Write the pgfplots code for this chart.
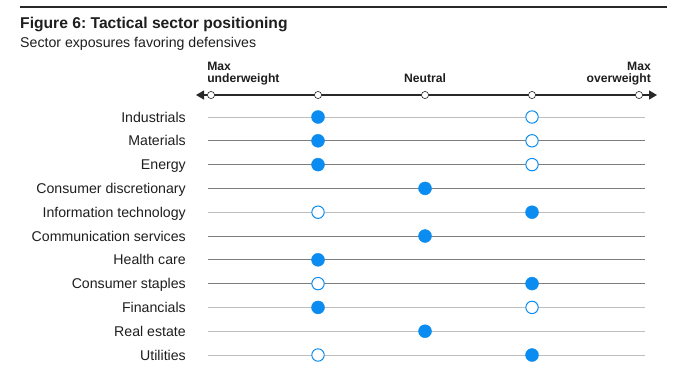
\documentclass[border=0pt]{standalone}
\usepackage{pgfplots}
\pgfplotsset{compat=1.18}
\usetikzlibrary{arrows.meta}
\usepackage{fontspec}
\setmainfont{Liberation Sans}
\frenchspacing
\definecolor{dotblue}{RGB}{10,140,240}
\definecolor{lightrow}{RGB}{190,190,190}
\definecolor{darkrow}{RGB}{125,125,125}
\definecolor{axisdark}{RGB}{40,40,40}
\definecolor{txt}{RGB}{30,30,30}
\tikzset{cat/.style={anchor=base east, inner sep=0pt, text=txt, font=\fontsize{14.2}{16}\selectfont},
  hdr/.style={inner sep=0pt, text=txt, font=\fontsize{12.2}{14}\selectfont\bfseries}}
\begin{document}
\begin{tikzpicture}
\begin{axis}[
  scale only axis, width=689bp, height=368bp,
  xmin=-1.972, xmax=4.467, ymin=-4.916, ymax=10.546,
  y dir=reverse, axis lines=none, ticks=none, clip=false,
]
% row lines
\addplot[lightrow, line width=0.8bp] coordinates {(-0.028,0) (4.056,0)};
\addplot[darkrow, line width=0.8bp] coordinates {(-0.028,1) (4.056,1)};
\addplot[darkrow, line width=0.8bp] coordinates {(-0.028,2) (4.056,2)};
\addplot[darkrow, line width=0.8bp] coordinates {(-0.028,3) (4.056,3)};
\addplot[lightrow, line width=0.8bp] coordinates {(-0.028,4) (4.056,4)};
\addplot[darkrow, line width=0.8bp] coordinates {(-0.028,5) (4.056,5)};
\addplot[darkrow, line width=0.8bp] coordinates {(-0.028,6) (4.056,6)};
\addplot[darkrow, line width=0.8bp] coordinates {(-0.028,7) (4.056,7)};
\addplot[lightrow, line width=0.8bp] coordinates {(-0.028,8) (4.056,8)};
\addplot[lightrow, line width=0.8bp] coordinates {(-0.028,9) (4.056,9)};
\addplot[lightrow, line width=0.8bp] coordinates {(-0.028,10) (4.056,10)};
% header axis
\addplot[axisdark, line width=1.2bp, {Triangle[length=8bp,width=9bp]}-{Triangle[length=8bp,width=9bp]}] coordinates {(-0.140,-0.924) (4.168,-0.924)};
\addplot[only marks, mark=*, mark size=3.6bp, mark options={fill=white, draw=axisdark, line width=0.6bp}] coordinates {(0,-0.924) (1,-0.924) (2,-0.924) (3,-0.924) (4,-0.924)};
% hollow positions
\addplot[only marks, mark=*, mark size=6.2bp, mark options={fill=white, draw=dotblue, line width=1bp}] coordinates {
(3,0) (3,1) (3,2) (1,4) (1,7) (3,8) (1,10)};
% filled positions
\addplot[only marks, mark=*, mark size=6.5bp, mark options={fill=dotblue, draw=dotblue}] coordinates {
(1,0) (1,1) (1,2) (2,3) (3,4) (2,5) (1,6) (3,7) (1,8) (2,9) (3,10)};
% texts
\draw[axisdark, line width=1.2bp] (axis cs:-1.785,-4.622) -- (axis cs:4.262,-4.622);
\node[anchor=base west, inner sep=0pt, text=txt, font=\fontsize{15.7}{18}\selectfont\bfseries] at (axis cs:-1.785,-3.739) {Figure 6: Tactical sector positioning};
\node[anchor=base west, inner sep=0pt, text=txt, font=\fontsize{14.2}{16}\selectfont] at (axis cs:-1.785,-2.941) {Sector exposures favoring defensives};
\node[hdr, anchor=base west] at (axis cs:-0.037,-1.954) {Max};
\node[hdr, anchor=base west] at (axis cs:-0.037,-1.450) {underweight};
\node[hdr, anchor=base] at (axis cs:2,-1.450) {Neutral};
\node[hdr, anchor=base east] at (axis cs:4.112,-1.954) {Max};
\node[hdr, anchor=base east] at (axis cs:4.112,-1.450) {overweight};
\node[cat] at (axis cs:-0.234,0.21) {Industrials};
\node[cat] at (axis cs:-0.234,1.21) {Materials};
\node[cat] at (axis cs:-0.234,2.21) {Energy};
\node[cat] at (axis cs:-0.234,3.21) {Consumer discretionary};
\node[cat] at (axis cs:-0.234,4.21) {Information technology};
\node[cat] at (axis cs:-0.234,5.21) {Communication services};
\node[cat] at (axis cs:-0.234,6.21) {Health care};
\node[cat] at (axis cs:-0.234,7.21) {Consumer staples};
\node[cat] at (axis cs:-0.234,8.21) {Financials};
\node[cat] at (axis cs:-0.234,9.21) {Real estate};
\node[cat] at (axis cs:-0.234,10.21) {Utilities};
\end{axis}
\pgfresetboundingbox
\path[use as bounding box] (0,0) rectangle (689bp,368bp);
\end{tikzpicture}
\end{document}
